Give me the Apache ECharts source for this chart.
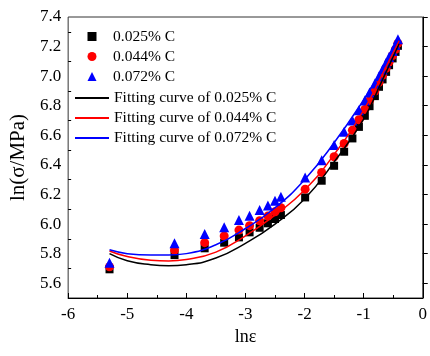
<!DOCTYPE html>
<html>
<head>
<meta charset="utf-8">
<script src="https://cdn.jsdelivr.net/npm/echarts@6/dist/echarts.min.js"></script>
<style>
html,body{margin:0;padding:0;background:#fff;}
#chart{width:430px;height:356px;}
</style>
</head>
<body>
<div id="chart"></div>
<script>
// ln(strain) positions of measured points
var lnStrain = [-5.30, -4.20, -3.69, -3.36, -3.11, -2.93, -2.76, -2.62, -2.50, -2.40, -1.99, -1.71, -1.50, -1.33, -1.19, -1.08, -0.98, -0.90, -0.81, -0.74, -0.68, -0.62, -0.57, -0.51, -0.46, -0.42];
var stress025 = [5.694, 5.790, 5.836, 5.874, 5.910, 5.944, 5.975, 6.005, 6.034, 6.061, 6.180, 6.293, 6.394, 6.489, 6.579, 6.657, 6.732, 6.797, 6.865, 6.928, 6.978, 7.029, 7.074, 7.120, 7.164, 7.205];
var stress044 = [5.711, 5.824, 5.874, 5.919, 5.959, 5.989, 6.022, 6.054, 6.083, 6.110, 6.236, 6.349, 6.455, 6.545, 6.635, 6.705, 6.775, 6.835, 6.900, 6.958, 7.005, 7.053, 7.096, 7.140, 7.182, 7.222];
var stress072 = [5.738, 5.870, 5.932, 5.978, 6.027, 6.056, 6.095, 6.126, 6.157, 6.184, 6.315, 6.432, 6.534, 6.624, 6.700, 6.770, 6.835, 6.890, 6.950, 7.000, 7.045, 7.090, 7.130, 7.170, 7.210, 7.250];

// fitting curves
var fitX = [-5.3, -5.0, -4.6, -4.3, -4.0, -3.5, -3.0, -2.5, -2.0, -1.5, -1.0, -0.7, -0.4];
var fit025 = [5.800, 5.752, 5.725, 5.718, 5.725, 5.770, 5.870, 6.000, 6.170, 6.420, 6.710, 6.960, 7.220];
var fit044 = [5.818, 5.780, 5.755, 5.750, 5.760, 5.810, 5.920, 6.060, 6.230, 6.470, 6.770, 7.000, 7.240];
var fit072 = [5.826, 5.800, 5.790, 5.790, 5.800, 5.860, 5.970, 6.110, 6.300, 6.550, 6.840, 7.040, 7.260];

var pointNames = ['0.025% C', '0.044% C', '0.072% C'];
var curveNames = ['Fitting curve of 0.025% C', 'Fitting curve of 0.044% C', 'Fitting curve of 0.072% C'];
var yMajorTicks = [5.6, 5.8, 6.0, 6.2, 6.4, 6.6, 6.8, 7.0, 7.2, 7.4];
var yMinorTicks = [5.5, 5.7, 5.9, 6.1, 6.3, 6.5, 6.7, 6.9, 7.1, 7.3];

function pairs(xs, ys) { return xs.map(function (x, i) { return [x, ys[i]]; }); }

var FONT = '"Liberation Serif", "Times New Roman", serif';
var legendText = {fontFamily: FONT, fontSize: 15.5, color: '#000', lineHeight: 16};
var chart = echarts.init(document.getElementById('chart'), null, {renderer: 'canvas'});
chart.setOption({
  animation: false,
  backgroundColor: '#fff',
  grid: {left: 65, right: 5, top: 17, bottom: 58, show: true, borderColor: '#333', borderWidth: 1, backgroundColor: 'transparent'},
  legend: [{
    orient: 'vertical', left: 82.5, top: 23.5,
    itemWidth: 9, itemHeight: 9, itemGap: 4,
    textStyle: Object.assign({padding: [0, 0, 0, 11.5]}, legendText),
    data: [{name: pointNames[0], icon: 'rect'}, {name: pointNames[1], icon: 'circle'}, {name: pointNames[2], icon: 'triangle'}]
  }, {
    orient: 'vertical', left: 70, top: 85,
    itemWidth: 34, itemHeight: 2, itemGap: 4,
    textStyle: legendText,
    data: [{name: curveNames[0], icon: 'rect'}, {name: curveNames[1], icon: 'rect'}, {name: curveNames[2], icon: 'rect'}]
  }],
  xAxis: {
    type: 'value', min: -6, max: 0, interval: 1,
    name: 'lnε', nameLocation: 'middle', nameGap: 28,
    nameTextStyle: {fontFamily: FONT, fontSize: 18, color: '#000'},
    axisLine: {show: true, lineStyle: {color: '#000', width: 1}},
    axisTick: {show: true, inside: true, length: 5, lineStyle: {color: '#000'}},
    minorTick: {show: true, splitNumber: 2, length: 3, lineStyle: {color: '#000'}},
    axisLabel: {fontFamily: FONT, fontSize: 17, color: '#000', margin: 8},
    splitLine: {show: false}
  },
  yAxis: [{
    type: 'value', min: 5.5, max: 7.4, position: 'left',
    name: 'ln(σ/MPa)', nameLocation: 'middle', nameGap: 36,
    nameTextStyle: {fontFamily: FONT, fontSize: 21, color: '#000'},
    axisLine: {show: true, lineStyle: {color: '#000', width: 1}},
    axisTick: {show: true, inside: true, length: 5, customValues: yMajorTicks, lineStyle: {color: '#000'}},
    axisLabel: {fontFamily: FONT, fontSize: 17, color: '#000', margin: 7, customValues: yMajorTicks,
      formatter: function (v) { return v.toFixed(1); }},
    splitLine: {show: false}
  }, {
    type: 'value', min: 5.5, max: 7.4, position: 'left',
    axisLine: {show: false},
    axisTick: {show: true, inside: true, length: 3, customValues: yMinorTicks, lineStyle: {color: '#000'}},
    axisLabel: {show: false},
    splitLine: {show: false}
  }],
  series: [
    {name: pointNames[0], type: 'scatter', symbol: 'rect', symbolSize: 8, itemStyle: {color: '#000', opacity: 1}, data: pairs(lnStrain, stress025), z: 3},
    {name: pointNames[1], type: 'scatter', symbol: 'circle', symbolSize: 9, itemStyle: {color: '#ff0000', opacity: 1}, data: pairs(lnStrain, stress044), z: 4},
    {name: pointNames[2], type: 'scatter', symbol: 'triangle', symbolSize: 10, itemStyle: {color: '#0000ff', opacity: 1}, data: pairs(lnStrain, stress072), z: 5},
    {name: curveNames[0], type: 'line', smooth: true, showSymbol: false, symbol: 'none', lineStyle: {color: '#000', width: 1.5}, itemStyle: {color: '#000'}, data: pairs(fitX, fit025), z: 6},
    {name: curveNames[1], type: 'line', smooth: true, showSymbol: false, symbol: 'none', lineStyle: {color: '#ff0000', width: 1.5}, itemStyle: {color: '#ff0000'}, data: pairs(fitX, fit044), z: 6},
    {name: curveNames[2], type: 'line', smooth: true, showSymbol: false, symbol: 'none', lineStyle: {color: '#0000ff', width: 1.5}, itemStyle: {color: '#0000ff'}, data: pairs(fitX, fit072), z: 6}
  ]
});
</script>
</body>
</html>
